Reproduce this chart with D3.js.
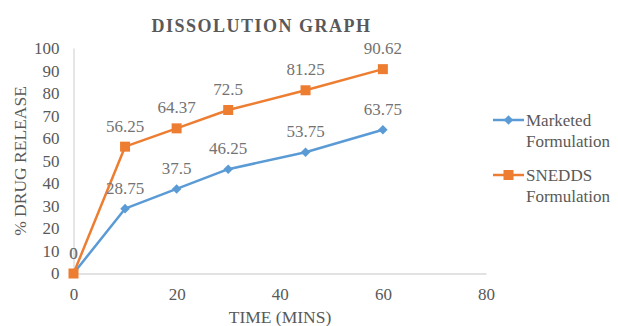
<!DOCTYPE html>
<html>
<head>
<meta charset="utf-8">
<script src="https://cdn.jsdelivr.net/npm/d3@7"></script>
<style>
  html, body { margin: 0; padding: 0; background: #fff; }
  svg { display: block; }
</style>
</head>
<body>
<div id="chart"></div>
<script>
const timePoints = [0, 10, 20, 30, 45, 60];
const marketedValues = [0, 28.75, 37.5, 46.25, 53.75, 63.75];
const sneddsValues = [0, 56.25, 64.37, 72.5, 81.25, 90.62];
const marketedLabels = ["0", "28.75", "37.5", "46.25", "53.75", "63.75"];
const sneddsLabels = ["0", "56.25", "64.37", "72.5", "81.25", "90.62"];
const xTicks = [0, 20, 40, 60, 80];
const yTicks = [0, 10, 20, 30, 40, 50, 60, 70, 80, 90, 100];
const seriesNames = [["Marketed", "Formulation"], ["SNEDDS", "Formulation"]];
const titleText = "DISSOLUTION GRAPH";
const xTitle = "TIME (MINS)";
const yTitle = "% DRUG RELEASE";

const W = 618, H = 326;
const FONT = "Liberation Serif";
const textColor = "#595959";
const labelColor = "#737373";
const axisColor = "#D9D9D9";
const colors = ["#5B9BD5", "#ED7D31"];

const svg = d3.select("#chart").append("svg").attr("width", W).attr("height", H);

const x = d3.scaleLinear().domain([0, 80]).range([73.5, 486]);
const y = d3.scaleLinear().domain([0, 100]).range([273.5, 48]);

function txt(sel, size, color) {
  return sel.style("font-family", FONT).style("font-size", size + "px").attr("fill", color || textColor);
}

// Title
txt(svg.append("text"), 18).attr("x", 261.5).attr("y", 32).attr("text-anchor", "middle")
  .style("font-weight", "bold").style("letter-spacing", "1.5px").text(titleText);

// Axes
const xAxis = svg.append("g").attr("transform", `translate(0,${y(0)})`)
  .call(d3.axisBottom(x).tickValues(xTicks).tickSize(0).tickPadding(14).tickFormat(d3.format("d")));
const yAxis = svg.append("g").attr("transform", `translate(${x(0)},0)`)
  .call(d3.axisLeft(y).tickValues(yTicks).tickSize(0).tickPadding(14).tickFormat(d3.format("d")));
[xAxis, yAxis].forEach(g => {
  g.select(".domain").attr("stroke", axisColor).attr("stroke-width", 1.3);
  txt(g.selectAll("text"), 17);
});

// Axis titles
txt(svg.append("text"), 17.5).attr("x", 280).attr("y", 323).attr("text-anchor", "middle").text(xTitle);
txt(svg.append("text"), 17.5).attr("transform", "translate(26,161) rotate(-90)")
  .attr("text-anchor", "middle").text(yTitle);

// Series
const series = [
  { values: marketedValues, labels: marketedLabels, color: colors[0], shape: d3.symbolSquare, size: 46, rot: 45 },
  { values: sneddsValues, labels: sneddsLabels, color: colors[1], shape: d3.symbolSquare, size: 100, rot: 0 }
];
const line = d3.line().x((d, i) => x(timePoints[i])).y(d => y(d));

series.forEach(s => {
  svg.append("path").datum(s.values).attr("d", line)
    .attr("fill", "none").attr("stroke", s.color).attr("stroke-width", 2.5)
    .attr("stroke-linejoin", "round");
  svg.selectAll(null).data(s.values).enter().append("path")
    .attr("d", d3.symbol().type(s.shape).size(s.size))
    .attr("transform", (d, i) => `translate(${x(timePoints[i])},${y(d)}) rotate(${s.rot})`)
    .attr("fill", s.color);
});
series.forEach(s => {
  txt(svg.selectAll(null).data(s.values).enter().append("text"), 17, labelColor)
    .attr("x", (d, i) => x(timePoints[i]))
    .attr("y", d => y(d) - 15)
    .attr("text-anchor", "middle")
    .text((d, i) => s.labels[i]);
});

// Legend
const legendY = [120, 175];
series.forEach((s, k) => {
  const g = svg.append("g").attr("transform", `translate(0,${legendY[k]})`);
  g.append("line").attr("x1", 493).attr("x2", 524).attr("y1", 0).attr("y2", 0)
    .attr("stroke", s.color).attr("stroke-width", 2.5);
  g.append("path").attr("d", d3.symbol().type(s.shape).size(s.size)())
    .attr("transform", `translate(508.5,0) rotate(${s.rot})`).attr("fill", s.color);
  seriesNames[k].forEach((t, j) => {
    txt(g.append("text"), 17).attr("x", 526).attr("y", 6 + j * 21).text(t);
  });
});
</script>
</body>
</html>
